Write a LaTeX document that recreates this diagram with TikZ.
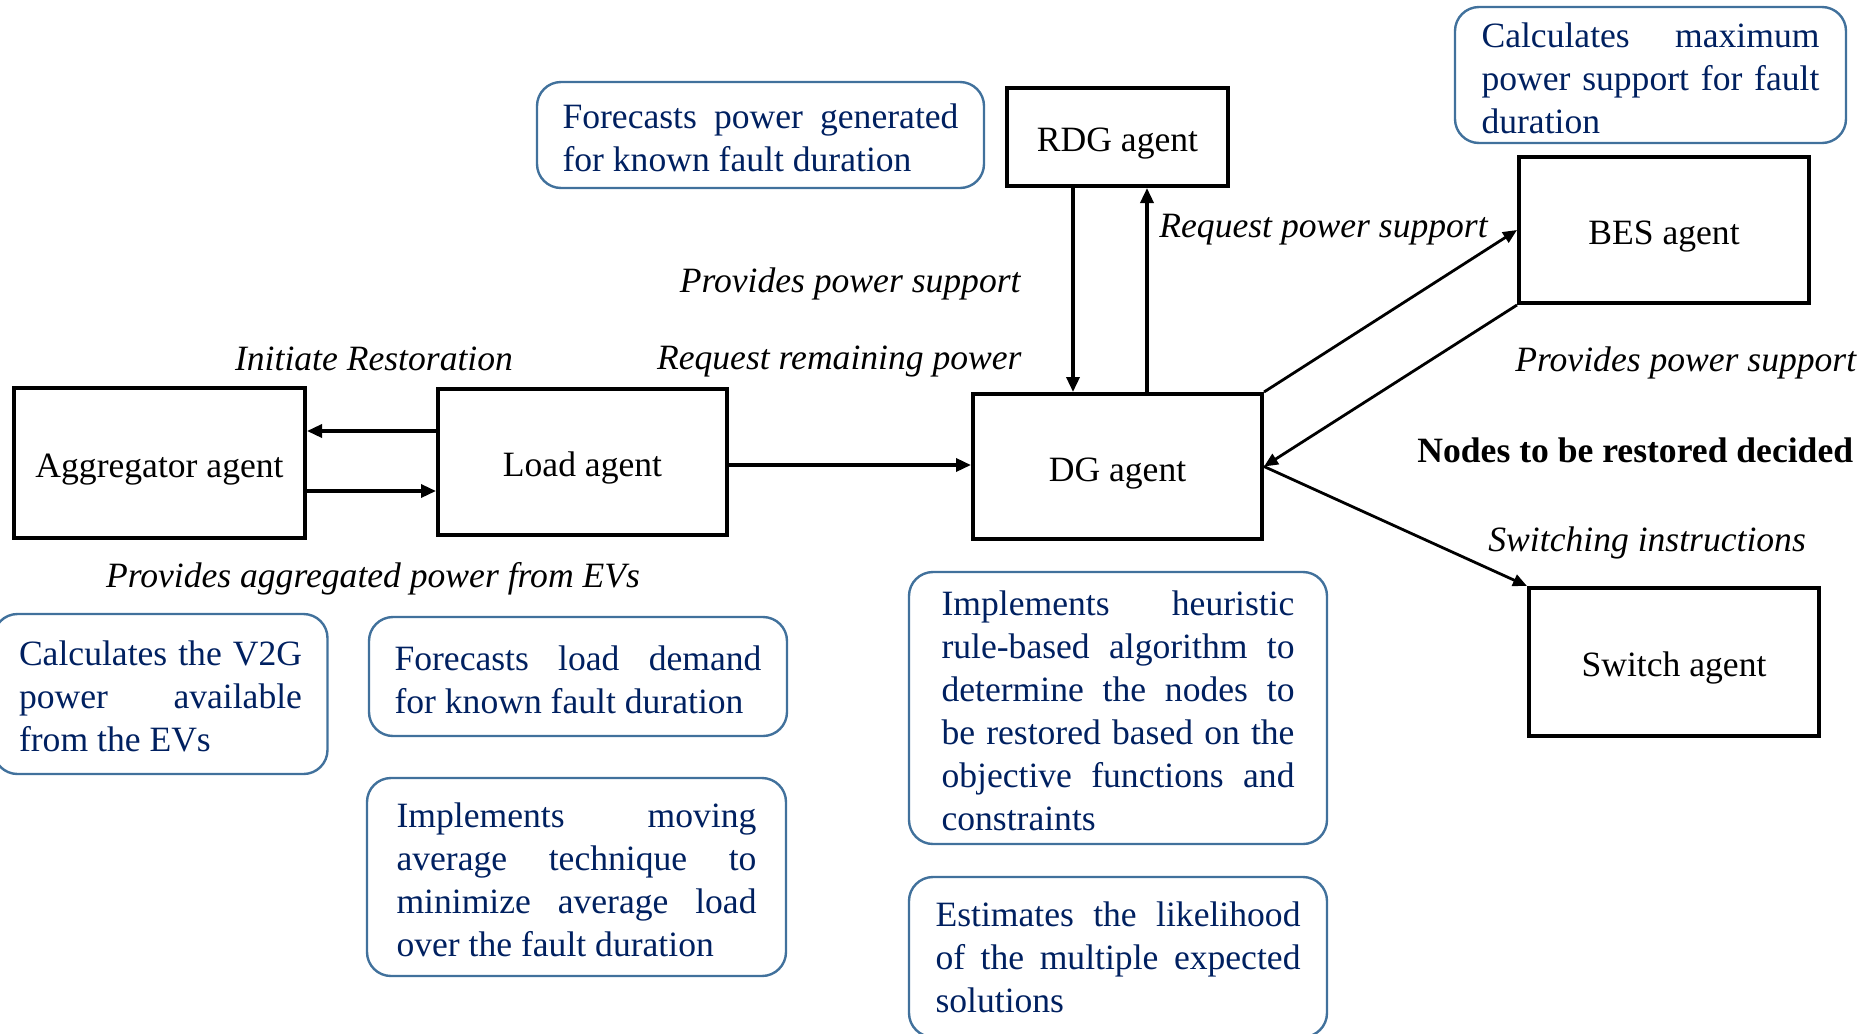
\documentclass[tikz,border=0pt]{standalone}
\usepackage{fontspec}
\setmainfont{Liberation Serif}
\usetikzlibrary{arrows.meta,calc}
\definecolor{notetext}{RGB}{0,32,96}
\definecolor{noteframe}{RGB}{65,113,156}
\tolerance=10000
\hbadness=10000
\hyphenpenalty=10000
\begin{document}
\begin{tikzpicture}[x=0.5pt,y=-0.5pt,
  every node/.style={font=\fontsize{17.8pt}{21.5pt}\selectfont},
  agent/.style={draw=black, line width=2pt, rectangle, inner sep=0pt,
    text height=18.5pt, text depth=4pt},
  note/.style={draw=noteframe, line width=1.2pt, rounded corners=12pt,
    text=notetext, align=justify, inner sep=0pt},
  lowered/.style={execute at begin node={\rule{0pt}{15.2pt}}},
  lbl/.style={inner sep=0pt, font=\fontsize{17.8pt}{21.5pt}\selectfont\itshape},
  boldlbl/.style={inner sep=0pt, font=\fontsize{17.8pt}{21.5pt}\selectfont\bfseries},
  arr/.style={line width=1.7pt, -{Triangle[length=7.5pt,width=6.5pt]}},
  diag/.style={line width=1.4pt, -{Triangle[length=7pt,width=6pt]}}]

\clip (0,0) rectangle (1870,1034);

% agents
\node[agent, minimum width=145.5pt, minimum height=75pt] (agg) at (159.5,463) {Aggregator agent};
\node[agent, minimum width=144.5pt, minimum height=73pt] (load) at (582.5,462) {Load agent};
\node[agent, minimum width=144.5pt, minimum height=72.5pt] (dg) at (1117.5,466.5) {DG agent};
\node[agent, minimum width=110.5pt, minimum height=49pt] (rdg) at (1117.5,137) {RDG agent};
\node[agent, minimum width=145pt, minimum height=73pt] (bes) at (1664,230) {BES agent};
\node[agent, minimum width=145pt, minimum height=74pt] (sw) at (1674,662) {Switch agent};

% notes describing each agent's task
\node[note, lowered, minimum width=223.5pt, minimum height=53pt, text width=198pt] (n1) at (760.5,135)
  {Forecasts power generated\linebreak for known fault duration};
\node[note, lowered, minimum width=195.5pt, minimum height=68pt, text width=169pt] (n2) at (1650.5,75)
  {Calculates maximum\linebreak power support for fault\linebreak duration};
\node[note, lowered, minimum width=167pt, minimum height=80pt, text width=141.5pt] (n3) at (160.5,694)
  {Calculates the V2G\linebreak power available\linebreak from the EVs};
\node[note, lowered, minimum width=209pt, minimum height=59.5pt, text width=183.5pt] (n4) at (578,676.5)
  {Forecasts load demand\linebreak for known fault duration};
\node[note, lowered, minimum width=209.5pt, minimum height=99pt, text width=180pt] (n5) at (576.5,877)
  {Implements moving\linebreak average technique to\linebreak minimize average load\linebreak over the fault duration};
\node[note, lowered, minimum width=209pt, minimum height=136pt, text width=176.5pt] (n6) at (1118,708)
  {Implements heuristic\linebreak rule-based algorithm to\linebreak determine the nodes to\linebreak be restored based on the\linebreak objective functions and\linebreak constraints};
\node[note, minimum width=209pt, minimum height=80pt, text width=182.5pt] (n7) at (1118,957)
  {Estimates the likelihood\linebreak of the multiple expected\linebreak solutions};

% connectors
\coordinate (la) at ($(load.west)+(0,-31)$);
\draw[arr] (la) -- (la -| agg.east);
\coordinate (al) at ($(agg.east)+(0,28)$);
\draw[arr] (al) -- (al -| load.west);
\coordinate (ld) at ($(load.east)+(0,3)$);
\draw[arr] (ld) -- (ld -| dg.west);
\coordinate (rd) at ($(rdg.south)+(-44.5,0)$);
\draw[arr] (rd) -- (rd |- dg.north);
\coordinate (dr) at ($(dg.north)+(29.5,0)$);
\draw[arr] (dr) -- (dr |- rdg.south);
\draw[diag] (dg.north east) -- (bes.west);
\draw[diag] (bes.south west) -- (dg.east);
\draw[diag] (dg.east) -- (sw.north west);

% message labels
\node[lbl, anchor=base] (t1) at (374,370) {Initiate Restoration};
\node[lbl, anchor=base east] (t2) at (1022,369) {Request remaining power};
\node[lbl, anchor=base east] (t3) at (1021,292) {Provides power support};
\node[lbl, anchor=base west] (t4) at (1159,237) {Request power support};
\node[lbl, anchor=base west] (t5) at (1515,371) {Provides power support};
\node[boldlbl, anchor=base west] (t6) at (1417,462) {Nodes to be restored decided};
\node[lbl, anchor=base west] (t7) at (1488,551) {Switching instructions};
\node[lbl, anchor=base] (t8) at (373,587) {Provides aggregated power from EVs};

\end{tikzpicture}
\end{document}
